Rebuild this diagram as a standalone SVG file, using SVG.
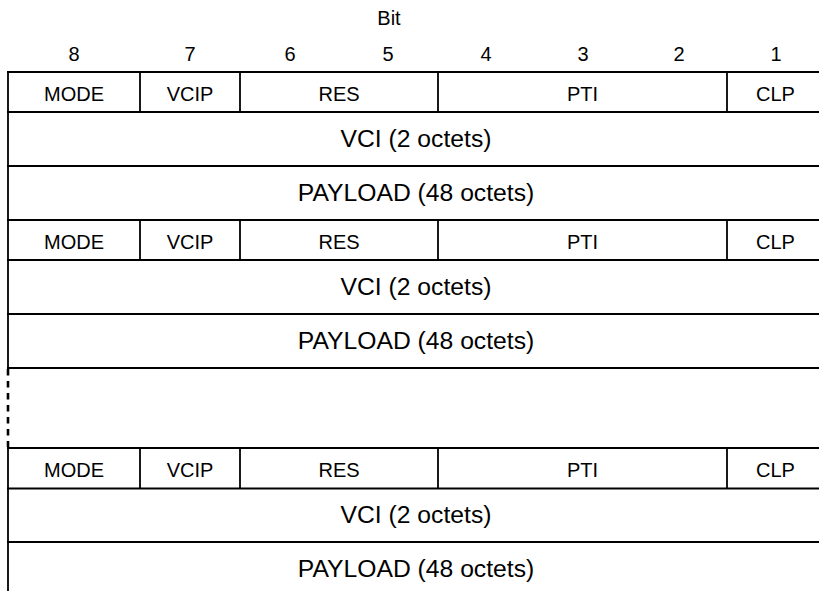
<svg xmlns="http://www.w3.org/2000/svg" width="819" height="591" viewBox="0 0 819 591">
<style>
text{font-family:"Liberation Sans",Arial,sans-serif;fill:#000;text-anchor:middle}
.s{font-size:20px}
.l{font-size:24.7px}
.ln{stroke:#000;stroke-width:1.8;fill:none}
.dash{stroke:#000;stroke-width:2.6;fill:none;stroke-dasharray:6.5 5.5}
</style>
<rect width="819" height="591" fill="#fff"/>
<g id="header">
<text class="s" x="389" y="25">Bit</text>
<text class="s" x="74" y="61">8</text>
<text class="s" x="190" y="61">7</text>
<text class="s" x="290" y="61">6</text>
<text class="s" x="388" y="61">5</text>
<text class="s" x="486" y="61">4</text>
<text class="s" x="583" y="61">3</text>
<text class="s" x="679" y="61">2</text>
<text class="s" x="776" y="61">1</text>
</g>
<g id="connectors">
<line class="ln" x1="8" y1="71" x2="8" y2="368"/>
<line class="dash" x1="8" y1="369" x2="8" y2="447"/>
<line class="ln" x1="8" y1="448" x2="8" y2="591"/>
<line class="ln" x1="7" y1="72" x2="819" y2="72"/>
<line class="ln" x1="7" y1="112" x2="819" y2="112"/>
<line class="ln" x1="7" y1="166" x2="819" y2="166"/>
<line class="ln" x1="7" y1="220" x2="819" y2="220"/>
<line class="ln" x1="7" y1="260" x2="819" y2="260"/>
<line class="ln" x1="7" y1="314" x2="819" y2="314"/>
<line class="ln" x1="7" y1="368" x2="819" y2="368"/>
<line class="ln" x1="7" y1="448" x2="819" y2="448"/>
<line class="ln" x1="7" y1="488.5" x2="819" y2="488.5"/>
<line class="ln" x1="7" y1="542" x2="819" y2="542"/>
</g>
<g id="octet1a">
<line class="ln" x1="140" y1="72" x2="140" y2="112"/>
<line class="ln" x1="240" y1="72" x2="240" y2="112"/>
<line class="ln" x1="438" y1="72" x2="438" y2="112"/>
<line class="ln" x1="727" y1="72" x2="727" y2="112"/>
<text class="s" x="74" y="101">MODE</text>
<text class="s" x="190" y="101">VCIP</text>
<text class="s" x="339" y="101">RES</text>
<text class="s" x="582.5" y="101">PTI</text>
<text class="s" x="775.5" y="101">CLP</text>
</g>
<g id="vci1"><text class="l" x="416" y="146.5">VCI (2 octets)</text></g>
<g id="payload1"><text class="l" x="416" y="201">PAYLOAD (48 octets)</text></g>
<g id="octet2a">
<line class="ln" x1="140" y1="220" x2="140" y2="260"/>
<line class="ln" x1="240" y1="220" x2="240" y2="260"/>
<line class="ln" x1="438" y1="220" x2="438" y2="260"/>
<line class="ln" x1="727" y1="220" x2="727" y2="260"/>
<text class="s" x="74" y="249">MODE</text>
<text class="s" x="190" y="249">VCIP</text>
<text class="s" x="339" y="249">RES</text>
<text class="s" x="582.5" y="249">PTI</text>
<text class="s" x="775.5" y="249">CLP</text>
</g>
<g id="vci2"><text class="l" x="416" y="294.5">VCI (2 octets)</text></g>
<g id="payload2"><text class="l" x="416" y="349">PAYLOAD (48 octets)</text></g>
<g id="octet3a">
<line class="ln" x1="140" y1="448" x2="140" y2="488.5"/>
<line class="ln" x1="240" y1="448" x2="240" y2="488.5"/>
<line class="ln" x1="438" y1="448" x2="438" y2="488.5"/>
<line class="ln" x1="727" y1="448" x2="727" y2="488.5"/>
<text class="s" x="74" y="477">MODE</text>
<text class="s" x="190" y="477">VCIP</text>
<text class="s" x="339" y="477">RES</text>
<text class="s" x="582.5" y="477">PTI</text>
<text class="s" x="775.5" y="477">CLP</text>
</g>
<g id="vci3"><text class="l" x="416" y="522.5">VCI (2 octets)</text></g>
<g id="payload3"><text class="l" x="416" y="577">PAYLOAD (48 octets)</text></g>
</svg>
